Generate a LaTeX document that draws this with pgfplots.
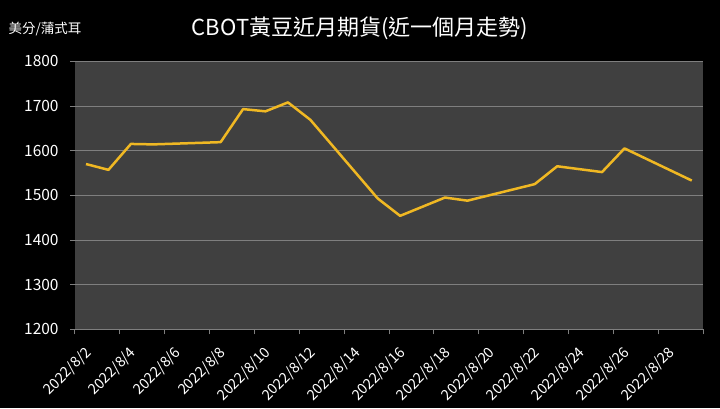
\documentclass[border=0pt]{standalone}
\usepackage{fontspec}
\setmainfont{Noto Sans CJK TC}
\usepackage{pgfplots}
\pgfplotsset{compat=1.18}
\definecolor{bgplot}{HTML}{404040}
\definecolor{gridc}{HTML}{7F7F7F}
\definecolor{linec}{HTML}{F0B823}
\begin{document}
\begin{tikzpicture}[x=1pt,y=1pt]
\fill[black] (0,0) rectangle (720,408);
\node[white, font=\fontsize{22}{26}\selectfont] at (360,379.5) {CBOT黃豆近月期貨(近一個月走勢)};
\node[white, anchor=west, inner sep=0pt, font=\fontsize{13.5}{15}\selectfont] at (8.5,379) {美分/蒲式耳};
\begin{axis}[
 at={(74.8pt,78.7pt)}, anchor=south west, scale only axis,
 width=628.2pt, height=268pt,
 xmin=1.5, xmax=29.5, ymin=1200, ymax=1800,
 ytick={1200,1300,...,1800},
 xtick={1.5,3.5,5.5,7.5,9.5,11.5,13.5,15.5,17.5,19.5,21.5,23.5,25.5,27.5,29.5},
 xticklabels={2022/8/2,2022/8/4,2022/8/6,2022/8/8,2022/8/10,2022/8/12,2022/8/14,2022/8/16,2022/8/18,2022/8/20,2022/8/22,2022/8/24,2022/8/26,2022/8/28,{}},
 axis background/.style={fill=bgplot},
 axis x line*=bottom, axis y line*=left,
 axis line style={-, draw=gridc, line width=0.75pt},
 y axis line style={draw=none},
 ymajorgrids, grid style={draw=gridc, line width=0.75pt},
 tick align=outside, major tick length=5pt,
 tick style={draw=gridc, line width=0.75pt},
 ticklabel style={white, font=\fontsize{14.5}{16}\selectfont, /pgf/number format/assume math mode=true},
 yticklabel style={/pgf/number format/1000 sep={}, anchor=east, inner sep=0pt, xshift=-11pt, font=\fontsize{15.5}{17}\selectfont},
 xticklabel style={xshift=14pt, yshift=-16pt, rotate=45, anchor=east, inner sep=0pt},
]
\addplot[linec, line width=2.5pt, line join=round] coordinates {
(2,1570) (3,1557) (4,1615) (5,1614) (8,1619) (9,1693) (10,1688) (11,1708) (12,1669)
(15,1493) (16,1454) (18,1495) (19,1488) (22,1525) (23,1565) (25,1552) (26,1605) (29,1533)
};
\end{axis}
\end{tikzpicture}
\end{document}
